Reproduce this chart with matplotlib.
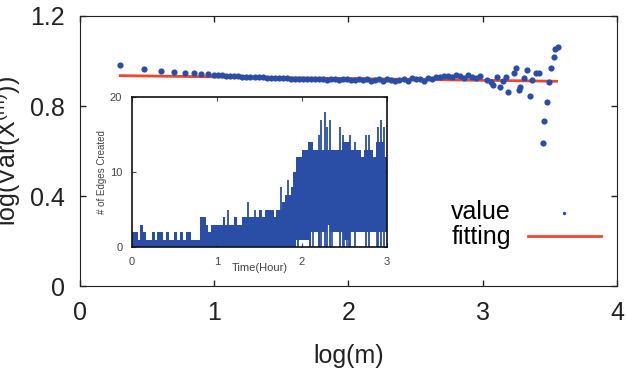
import numpy as np
import matplotlib
matplotlib.use("Agg")
import matplotlib.pyplot as plt

plt.rcParams['font.family'] = ['Liberation Sans', 'DejaVu Sans']
plt.rcParams['mathtext.default'] = 'regular'

# main plot: log(m) vs log(Var(X^(m)))
logm = [0.30, 0.48, 0.60, 0.70, 0.78, 0.85, 0.90, 0.95,
        1.00, 1.03, 1.06, 1.09, 1.12, 1.15, 1.18, 1.21, 1.24, 1.27,
        1.30, 1.33, 1.36, 1.39, 1.42, 1.45, 1.48, 1.51, 1.54, 1.57,
        1.60, 1.63, 1.66, 1.69, 1.72, 1.75, 1.78, 1.81, 1.84, 1.87,
        1.90, 1.93, 1.96, 1.99, 2.02, 2.05, 2.08, 2.11, 2.14, 2.17,
        2.20, 2.23, 2.26, 2.29, 2.32, 2.35, 2.38, 2.41, 2.44, 2.47,
        2.50, 2.53, 2.56, 2.59, 2.62, 2.65, 2.68, 2.71, 2.74, 2.77,
        2.80, 2.83, 2.86, 2.89, 2.92, 2.95, 2.98,
        3.03, 3.06, 3.08, 3.11, 3.13, 3.15, 3.17, 3.19, 3.23, 3.25,
        3.27, 3.28, 3.31, 3.33, 3.35, 3.37, 3.40, 3.42, 3.45, 3.46,
        3.48, 3.49, 3.51, 3.53, 3.54, 3.56]
logvar = [0.982, 0.963, 0.956, 0.951, 0.947, 0.945, 0.943, 0.941,
          0.940, 0.938, 0.937, 0.935, 0.934, 0.933, 0.932, 0.931, 0.930, 0.929,
          0.929, 0.928, 0.927, 0.926, 0.926, 0.925, 0.924, 0.924, 0.923, 0.922,
          0.922, 0.921, 0.921, 0.920, 0.922, 0.919, 0.918, 0.921, 0.917, 0.919,
          0.920, 0.916, 0.918, 0.922, 0.915, 0.917, 0.921, 0.914, 0.919, 0.913,
          0.916, 0.920, 0.912, 0.918, 0.915, 0.911, 0.917, 0.921, 0.913, 0.926,
          0.918, 0.922, 0.912, 0.925, 0.919, 0.930, 0.927, 0.933, 0.935, 0.929,
          0.936, 0.932, 0.924, 0.938, 0.930, 0.926, 0.934,
          0.915, 0.905, 0.893, 0.929, 0.884, 0.912, 0.929, 0.862, 0.947, 0.969,
          0.871, 0.884, 0.924, 0.960, 0.845, 0.916, 0.947, 0.947, 0.636, 0.733,
          0.818, 0.907, 0.969, 1.018, 1.053, 1.062]
fit_x = [0.30, 3.55]
fit_y = [0.935, 0.910]

# inset: edges created per 2-minute bin (plateau / floor), plus single spikes
edges_high = [2, 2, 1, 3, 2, 1, 1, 2, 1, 2, 2, 1, 2, 1, 1, 2, 1, 2, 1, 2,
              2, 1, 1, 1, 4, 4, 3, 2, 3, 3, 3, 3, 4, 3, 3, 3, 4, 3, 3, 4,
              4, 4, 4, 4, 4, 5, 4, 5, 5, 5, 4, 5, 5, 6, 7, 7, 8, 10, 12, 12,
              13, 13, 14, 14, 13, 13, 13, 13, 13, 13, 13, 13, 13, 13, 14, 14, 14, 13, 13, 13,
              13, 12, 13, 13, 13, 12, 14, 14, 14, 12]
edges_low = [0] * 58 + [1, 1, 1, 1, 1, 2, 2, 2, 2, 2, 2, 3, 2, 2, 2, 2, 2, 1, 1, 2,
                        2, 2, 2, 2, 2, 2, 2, 2, 2, 2, 2, 2]
bin_hours = 2 / 60
spike_t = [1.13, 1.37, 1.45, 1.62, 1.75, 1.84, 1.95, 2.10, 2.20, 2.22, 2.27, 2.30,
           2.33, 2.45, 2.48, 2.56, 2.62, 2.75, 2.79, 2.90, 2.93, 2.96]
spike_v = [5, 6, 5, 5, 8, 9, 12, 14, 15, 17, 18, 16,
           17, 16, 15, 15, 14, 15, 15, 16, 17, 16]
dip_t = [2.10, 2.13, 2.20, 2.35, 2.50, 2.53, 2.55, 2.88]

blue = '#2a4ea6'
red = '#ef4630'
fs = 18

fig = plt.figure(figsize=(6.27, 3.72), dpi=100)
ax = fig.add_axes([0.1276, 0.231, 0.8564, 0.726])

ax.scatter(logm, logvar, s=20, color=blue, linewidths=0, label='value', zorder=3)
ax.plot(fit_x, fit_y, color=red, lw=2, label='fitting', zorder=2)

ax.set_xlim(0, 4)
ax.set_ylim(0, 1.2)
ax.set_xticks([0, 1, 2, 3, 4])
ax.set_yticks([0, 0.4, 0.8, 1.2])
ax.set_yticklabels(['0', '0.4', '0.8', '1.2'])
ax.tick_params(direction='in', top=True, right=True, length=4, width=1,
               labelsize=fs, pad=11, colors='#222222')
for s in ax.spines.values():
    s.set_color('#222222')
ax.set_xlabel('log(m)', fontsize=fs, color='#222222')
ax.xaxis.set_label_coords(0.5, -0.215)
ax.set_ylabel('log(Var(X$^{(m)}$))', fontsize=fs, color='#222222')
ax.yaxis.set_label_coords(-0.106, 0.5)

leg = ax.legend(loc='upper right', bbox_to_anchor=(0.958, 0.462),
                bbox_transform=fig.transFigure, frameon=False, markerfirst=False,
                fontsize=fs, markerscale=0.55, handlelength=2.9,
                handletextpad=0.7, labelspacing=0.05, borderpad=0, borderaxespad=0)

# inset
ins = fig.add_axes([0.2105, 0.336, 0.4067, 0.403])
t = np.arange(len(edges_high) + 1) * bin_hours
hi = edges_high + [edges_high[-1]]
lo = edges_low + [edges_low[-1]]
ins.fill_between(t, lo, hi, step='post', color=blue, lw=0)
ins.vlines(spike_t, 0, spike_v, color=blue, lw=1.3)
ins.vlines(dip_t, 0, 3, color=blue, lw=1.2)
ins.set_xlim(0, 3)
ins.set_ylim(0, 20)
ins.set_xticks([0, 1, 2, 3])
ins.set_yticks([0, 10, 20])
ins.tick_params(direction='in', top=True, right=True, length=3, width=0.8,
                labelsize=8, pad=7, colors='#444444')
for s in ins.spines.values():
    s.set_color('#111111')
    s.set_linewidth(1.2)
ins.text(0.5, -0.14, 'Time(Hour)', transform=ins.transAxes, ha='center',
         va='center', fontsize=8, color='#444444')
ins.set_ylabel('# of Edges Created', fontsize=7, color='#444444', labelpad=2)

fig.savefig('out.png', dpi=100)
